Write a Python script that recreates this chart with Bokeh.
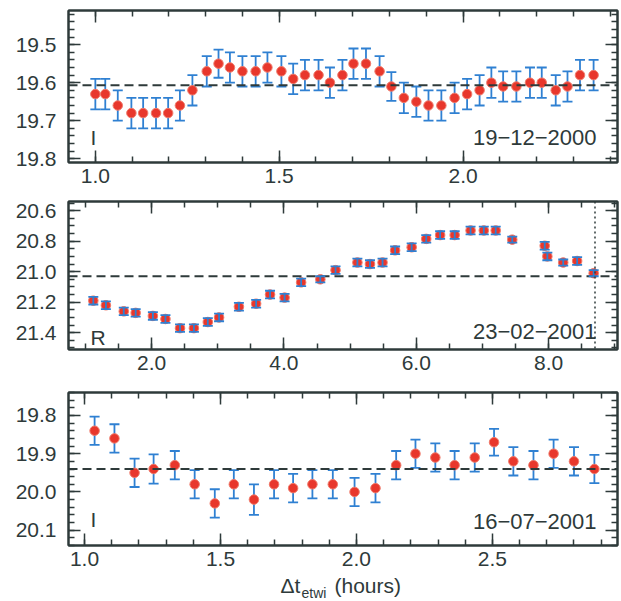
from bokeh.embed import file_html
from bokeh.layouts import column
from bokeh.models import (ColumnDataSource, Label, LinearAxis, NumeralTickFormatter,
                          Range1d, SingleIntervalTicker, Span, TeeHead, Whisker)
from bokeh.plotting import figure
from bokeh.resources import INLINE

FONT = "Liberation Sans"
INK = "#2e3a3a"
RED = "#e8372c"
BLUE = "#2f80d2"

# 19-12-2000, I band
dec_t = [1.000, 1.027, 1.061, 1.098, 1.130, 1.165, 1.198, 1.230, 1.264, 1.303,
         1.335, 1.366, 1.400, 1.436, 1.468, 1.506, 1.538, 1.570, 1.607, 1.638,
         1.672, 1.702, 1.736, 1.773, 1.805, 1.839, 1.873, 1.906, 1.941, 1.977,
         2.011, 2.045, 2.077, 2.109, 2.145, 2.182, 2.214, 2.252, 2.284, 2.318, 2.355]
dec_mag = [19.63, 19.63, 19.66, 19.68, 19.68, 19.68, 19.68, 19.66, 19.62, 19.57,
           19.55, 19.56, 19.57, 19.57, 19.56, 19.57, 19.59, 19.58, 19.58, 19.60,
           19.58, 19.55, 19.55, 19.57, 19.61, 19.64, 19.65, 19.66, 19.66, 19.64,
           19.63, 19.62, 19.60, 19.61, 19.61, 19.60, 19.60, 19.62, 19.61, 19.58, 19.58]
dec_err = [0.04, 0.04, 0.04, 0.04, 0.04, 0.04, 0.04, 0.04, 0.04, 0.04,
           0.037, 0.04, 0.04, 0.04, 0.04, 0.04, 0.04, 0.04, 0.04, 0.04,
           0.04, 0.04, 0.04, 0.04, 0.038, 0.04, 0.04, 0.04, 0.04, 0.04,
           0.04, 0.04, 0.04, 0.04, 0.04, 0.04, 0.04, 0.04, 0.04, 0.04, 0.04]
dec_mean = 19.607

# 23-02-2001, R band
feb_t = [1.12, 1.31, 1.58, 1.76, 2.02, 2.21, 2.43, 2.64, 2.85, 3.02,
         3.32, 3.58, 3.79, 4.01, 4.26, 4.55, 4.78, 5.11, 5.30, 5.49,
         5.68, 5.93, 6.15, 6.36, 6.58, 6.82, 7.02, 7.20, 7.45, 7.94,
         7.98, 8.22, 8.43, 8.68]
feb_mag = [21.19, 21.22, 21.26, 21.27, 21.29, 21.31, 21.37, 21.37, 21.33, 21.30,
           21.23, 21.21, 21.15, 21.17, 21.07, 21.05, 20.99, 20.94, 20.95, 20.94,
           20.86, 20.84, 20.785, 20.76, 20.76, 20.73, 20.73, 20.73, 20.79, 20.83,
           20.90, 20.94, 20.93, 21.01]
feb_err = [0.025, 0.025, 0.025, 0.025, 0.025, 0.025, 0.025, 0.025, 0.025, 0.025,
           0.025, 0.025, 0.025, 0.025, 0.025, 0.02, 0.025, 0.025, 0.025, 0.025,
           0.025, 0.025, 0.025, 0.025, 0.025, 0.025, 0.025, 0.025, 0.02, 0.025,
           0.025, 0.02, 0.025, 0.02]
feb_mean = 21.03
feb_cut = 8.70

# 16-07-2001, I band
jul_t = [1.037, 1.110, 1.184, 1.254, 1.332, 1.405, 1.479, 1.549, 1.623, 1.697,
         1.767, 1.838, 1.913, 1.993, 2.070, 2.146, 2.217, 2.290, 2.361, 2.435,
         2.506, 2.577, 2.651, 2.725, 2.800, 2.875]
jul_mag = [19.84, 19.86, 19.95, 19.94, 19.93, 19.98, 20.03, 19.98, 20.02, 19.98,
           19.99, 19.98, 19.98, 20.00, 19.99, 19.93, 19.90, 19.91, 19.93, 19.91,
           19.87, 19.92, 19.93, 19.90, 19.92, 19.94]
jul_err = [0.037, 0.037, 0.037, 0.038, 0.037, 0.037, 0.037, 0.037, 0.04, 0.037,
           0.037, 0.037, 0.037, 0.037, 0.037, 0.037, 0.037, 0.037, 0.037, 0.037,
           0.035, 0.037, 0.037, 0.037, 0.037, 0.037]
jul_mean = 19.94


def style_axis(axis, interval, minor, standoff=None):
    axis.ticker = SingleIntervalTicker(interval=interval, num_minor_ticks=minor)
    axis.formatter = NumeralTickFormatter(format="0.0")
    axis.axis_line_color = INK
    axis.axis_line_width = 2
    axis.major_tick_line_color = INK
    axis.minor_tick_line_color = INK
    axis.major_tick_line_width = 1.5
    axis.minor_tick_line_width = 1.5
    axis.major_tick_in = 12
    axis.major_tick_out = 0
    axis.minor_tick_in = 6
    axis.minor_tick_out = 0
    if standoff is not None:
        axis.major_label_text_font = FONT
        axis.major_label_text_font_size = "21px"
        axis.major_label_text_color = INK
        axis.major_label_standoff = standoff
    else:
        # mirrored axis: ticks only
        axis.major_label_text_font_size = "1px"
        axis.major_label_text_color = None
        axis.major_label_standoff = 0


def make_panel(t, mag, err, mean, x_range, y_range, x_tick, y_tick, band, date,
               height, top, bottom, band_y=14, date_y=18, bars_on_top=False):
    p = figure(width=621, height=height, x_range=Range1d(*x_range), y_range=Range1d(*y_range),
               toolbar_location=None, output_backend="svg",
               min_border_left=68, min_border_right=4,
               min_border_top=top, min_border_bottom=bottom)
    p.grid.visible = False
    p.outline_line_color = INK
    p.outline_line_width = 2
    style_axis(p.xaxis[0], *x_tick, standoff=6)
    style_axis(p.yaxis[0], *y_tick, standoff=12)
    top_axis = LinearAxis()
    style_axis(top_axis, *x_tick)
    p.add_layout(top_axis, "above")
    right_axis = LinearAxis()
    style_axis(right_axis, *y_tick)
    p.add_layout(right_axis, "right")

    p.add_layout(Span(location=mean, dimension="width", line_color=INK,
                      line_width=2, line_dash="9 5"))

    src = ColumnDataSource(dict(t=t, mag=mag,
                                lo=[m - e for m, e in zip(mag, err)],
                                hi=[m + e for m, e in zip(mag, err)]))
    whisk = Whisker(source=src, base="t", lower="lo", upper="hi",
                    line_color=BLUE, line_width=1.8,
                    lower_head=TeeHead(size=10, line_color=BLUE, line_width=1.8),
                    upper_head=TeeHead(size=10, line_color=BLUE, line_width=1.8),
                    level="annotation" if bars_on_top else "underlay")
    p.add_layout(whisk)
    p.scatter("t", "mag", source=src, size=9.5, fill_color=RED, line_color="#f07a6a",
              line_width=1)

    p.add_layout(Label(x=22, y=band_y, x_units="screen", y_units="screen", text=band,
                       text_font=FONT, text_font_size="21px", text_color=INK))
    p.add_layout(Label(x=528, y=date_y, x_units="screen", y_units="screen", text=date,
                       text_align="right", text_font=FONT,
                       text_font_size="22px", text_color=INK))
    return p


p1 = make_panel(dec_t, dec_mag, dec_err, dec_mean, (0.927, 2.42), (19.81, 19.41),
                (0.5, 5), (0.1, 5), "I", "19\u221212\u22122000", 199, 10, 37,
                band_y=14, date_y=18)
p2 = make_panel(feb_t, feb_mag, feb_err, feb_mean, (0.745, 9.04), (21.51, 20.54),
                (2.0, 4), (0.2, 4), "R", "23\u221202\u22122001", 191, 2, 41,
                band_y=1, date_y=11, bars_on_top=True)
p2.add_layout(Span(location=feb_cut, dimension="height", line_color=INK,
                   line_width=1.5, line_dash="2 3"))
p3 = make_panel(jul_t, jul_mag, jul_err, jul_mean, (0.941, 2.96), (20.14, 19.74),
                (0.5, 5), (0.1, 5), "I", "16\u221207\u22122001", 185, 2, 30,
                band_y=15, date_y=17)

# x axis title with subscript, in a strip under the bottom panel
# (the strip's frame lines up with the panels' frames)
title = figure(width=621, height=25, x_axis_type=None, y_axis_type=None,
               toolbar_location=None, output_backend="svg", min_border=0)
title.outline_line_color = None
title.grid.visible = False
title.add_layout(Label(x=212, y=4, x_units="screen", y_units="screen", text="\u0394t",
                       text_font=FONT, text_font_size="21px", text_color=INK))
title.add_layout(Label(x=233, y=0, x_units="screen", y_units="screen", text="etwi",
                       text_font=FONT, text_font_size="14px", text_color=INK))
title.add_layout(Label(x=266, y=4, x_units="screen", y_units="screen", text="(hours)",
                       text_font=FONT, text_font_size="21px", text_color=INK))

layout = column(p1, p2, p3, title)
open("out.html", "w").write(file_html(layout, INLINE))
